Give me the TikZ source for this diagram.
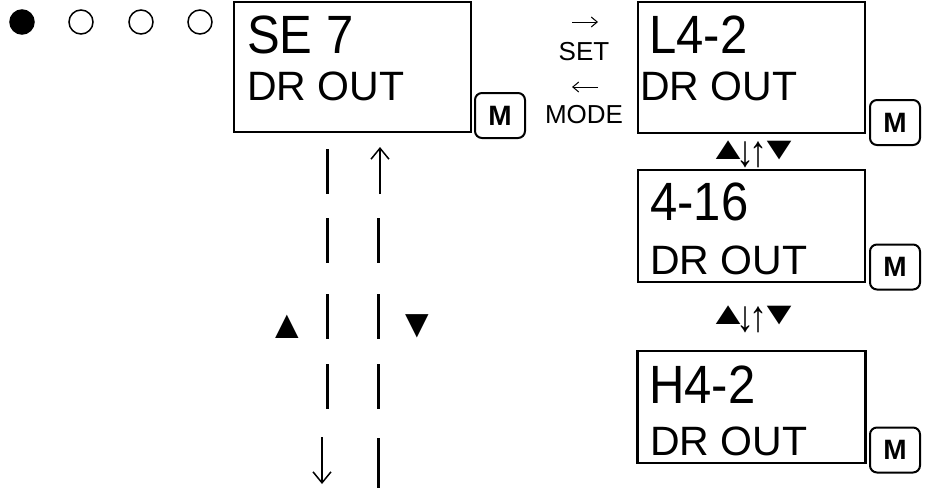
\documentclass[tikz,border=0pt]{standalone}
\usepackage{fontspec}
\usepackage{graphicx}
\setmainfont{Liberation Sans}
\usetikzlibrary{arrows.meta}
\newcommand{\tallbig}[1]{\scalebox{1}[1.1]{#1}}
\newcommand{\vcen}[2][0pt]{\raisebox{\dimexpr(\depth-\height)/2+#1\relax}{#2}}
\newcommand{\udgroup}{%
  \makebox[22pt]{\vcen[4.5pt]{\scalebox{1.05}[0.8]{▲}}}%
  \makebox[12pt]{\vcen{\scalebox{0.9}[1.1]{↓}}}%
  \makebox[15pt]{\vcen{\scalebox{0.9}[1.1]{↑}}}%
  \hspace*{2pt}%
  \makebox[22pt]{\vcen[4.5pt]{\scalebox{1.05}[0.8]{▼}}}}
\begin{document}
\begin{tikzpicture}[x=1pt,y=-1pt,
  lcd/.style={draw, line width=2.5pt, inner sep=0pt},
  mbtn/.style={draw, line width=2pt, rounded corners=7pt, minimum width=50pt, minimum height=45pt, inner sep=0pt, font=\fontsize{28}{28}\selectfont\bfseries},
  bigtxt/.style={anchor=base west, inner sep=0pt, font=\fontsize{49}{49}\selectfont},
  smalltxt/.style={anchor=base west, inner sep=0pt, font=\fontsize{41}{41}\selectfont},
  keytxt/.style={inner sep=0pt, font=\fontsize{26}{26}\selectfont},
  trisym/.style={inner sep=0pt, font=\fontsize{40}{40}\selectfont},
  grpsym/.style={inner sep=0pt, anchor=base west, font=\fontsize{40}{40}\selectfont},
  dashseg/.style={line width=3pt},
  bigarrow/.style={line width=1.5pt, -{Straight Barb[length=11pt, width=18pt, line width=1.5pt]}},
  smallarrow/.style={line width=1pt, -{Straight Barb[length=6pt, width=10pt, line width=1pt]}},
  dot/.style={circle, draw, line width=1.5pt, minimum size=24pt, inner sep=0pt}
]
\useasboundingbox (0,0) rectangle (930,488);

% indicator dots
\node[dot, fill=black] (d1) at (22,22) {};
\node[dot] (d2) at (81,22) {};
\node[dot] (d3) at (141,22) {};
\node[dot] (d4) at (200,22) {};

% display boxes
\node[lcd, minimum width=237pt, minimum height=130pt] (b1) at (352.5,67) {};
\node[lcd, minimum width=227pt, minimum height=131pt] (b2) at (751.5,67.5) {};
\node[lcd, minimum width=227pt, minimum height=112pt] (b3) at (751.5,226) {};
\node[lcd, minimum width=228pt, minimum height=112pt] (b4) at (751.5,407) {};

% texts
\node[bigtxt] (t1a) at (247,53) {\tallbig{SE 7}};
\node[smalltxt] (t1b) at (247,100) {DR OUT};
\node[bigtxt] (t2a) at (649,53) {\tallbig{L4-2}};
\node[smalltxt] (t2b) at (640,100) {DR OUT};
\node[bigtxt] (t3a) at (650,220) {\tallbig{4-16}};
\node[smalltxt] (t3b) at (650,274) {DR OUT};
\node[bigtxt] (t4a) at (649,403) {\tallbig{H4-2}};
\node[smalltxt] (t4b) at (650,455) {DR OUT};

% M buttons
\node[mbtn] (m1) at (500,115.5) {M};
\node[mbtn] (m2) at (895,122.5) {M};
\node[mbtn] (m3) at (895,267) {M};
\node[mbtn] (m4) at (895,450) {M};

% SET / MODE
\coordinate (sa1) at (572,22);
\coordinate (sa2) at (598,22);
\draw[smallarrow] (sa1) -- (sa2);
\node[keytxt, anchor=base] (set) at (584,60) {SET};
\coordinate (ma1) at (598,87);
\coordinate (ma2) at (572,87);
\draw[smallarrow] (ma1) -- (ma2);
\node[keytxt, anchor=base] (mode) at (584,123) {MODE};

% up/down symbol groups
\node[grpsym] (g1) at (717,155) {\udgroup};
\node[grpsym] (g2) at (717,320) {\udgroup};
\node[trisym] (up) at (287.5,326.5) {▲};
\node[trisym] (dn) at (417.5,326.5) {▼};

% left column (going down)
\foreach \a/\b in {149/194, 218/263, 294/339, 364/409}
  \draw[dashseg] (327,\a) -- (327,\b);
\coordinate (ld1) at (322,437);
\coordinate (ld2) at (322,484);
\draw[bigarrow] (ld1) -- (ld2);

% right column (going up)
\coordinate (ru1) at (380,194);
\coordinate (ru2) at (380,147);
\draw[bigarrow] (ru1) -- (ru2);
\foreach \a/\b in {218/263, 294/339, 364/409, 438/488}
  \draw[dashseg] (378,\a) -- (378,\b);
\end{tikzpicture}
\end{document}
